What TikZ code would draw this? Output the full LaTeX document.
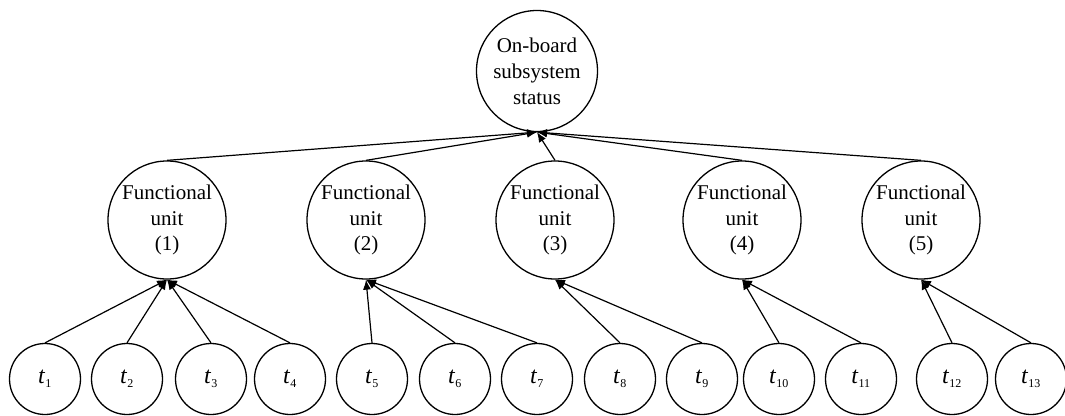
\documentclass[tikz,border=0pt]{standalone}
\usepackage{fontspec}
\setmainfont{Liberation Serif}
\usetikzlibrary{arrows.meta}
\begin{document}
\begin{tikzpicture}[x=1pt,y=-1pt,
  topc/.style={circle,draw,line width=1.3pt,minimum size=121pt,inner sep=0pt,align=center,font=\fontsize{21}{26}\selectfont},
  unitc/.style={circle,draw,line width=1.3pt,minimum size=118pt,inner sep=0pt,align=center,font=\fontsize{21}{25.5}\selectfont},
  leafc/.style={circle,draw,line width=1.3pt,minimum size=71pt,inner sep=0pt,font=\fontsize{24}{28}\selectfont},
  arr/.style={line width=1.2pt,-{Latex[length=10pt,width=8pt]}}]
\useasboundingbox (0,0) rectangle (1065,415);
\newcommand{\tl}[1]{\textit{t}\textsubscript{\fontsize{12}{14}\selectfont #1}}
\node[topc] (top) at (537,71) {On-board\\subsystem\\status};
\node[unitc] (u1) at (167,220) {Functional\\unit\\(1)};
\node[unitc] (u2) at (366,220) {Functional\\unit\\(2)};
\node[unitc] (u3) at (555,220) {Functional\\unit\\(3)};
\node[unitc] (u4) at (742,220) {Functional\\unit\\(4)};
\node[unitc] (u5) at (921,220) {Functional\\unit\\(5)};
\node[leafc] (t1) at (45,379) {\tl{1}};
\node[leafc] (t2) at (127,379) {\tl{2}};
\node[leafc] (t3) at (211,379) {\tl{3}};
\node[leafc] (t4) at (290,379) {\tl{4}};
\node[leafc] (t5) at (372,379) {\tl{5}};
\node[leafc] (t6) at (455,379) {\tl{6}};
\node[leafc] (t7) at (537,379) {\tl{7}};
\node[leafc] (t8) at (620,379) {\tl{8}};
\node[leafc] (t9) at (702,379) {\tl{9}};
\node[leafc] (t10) at (779,379) {\tl{10}};
\node[leafc] (t11) at (861,379) {\tl{11}};
\node[leafc] (t12) at (952,379) {\tl{12}};
\node[leafc] (t13) at (1031,379) {\tl{13}};
\foreach \u in {u1,u2,u3,u4,u5} \draw[arr] (\u.north) -- (top.south);
\foreach \t in {t1,t2,t3,t4} \draw[arr] (\t.north) -- (u1.south);
\foreach \t in {t5,t6,t7} \draw[arr] (\t.north) -- (u2.south);
\foreach \t in {t8,t9} \draw[arr] (\t.north) -- (u3.south);
\foreach \t in {t10,t11} \draw[arr] (\t.north) -- (u4.south);
\foreach \t in {t12,t13} \draw[arr] (\t.north) -- (u5.south);
\end{tikzpicture}
\end{document}
